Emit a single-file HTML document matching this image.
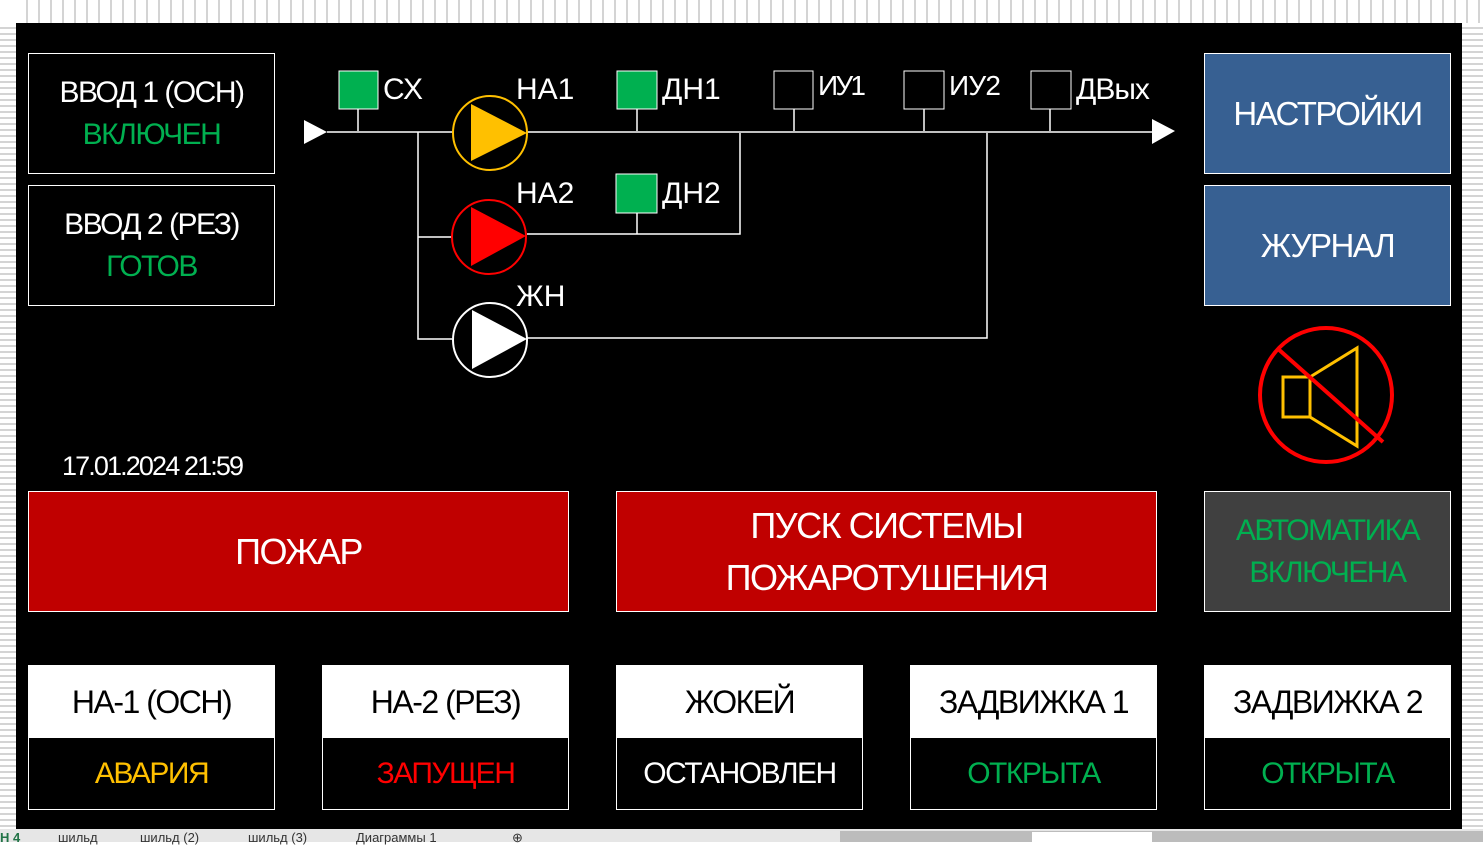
<!DOCTYPE html>
<html><head><meta charset="utf-8"><style>
body{margin:0;width:1483px;height:842px;overflow:hidden;background:#fff;font-family:"Liberation Sans",sans-serif;position:relative}
.top{position:absolute;left:16px;top:0;width:1467px;height:23px;background:repeating-linear-gradient(90deg,#fff 0 10px,#d4d4d4 10px 12px)}
.lft{position:absolute;left:0;top:23px;width:16px;height:807px;background:repeating-linear-gradient(180deg,#fff 0 4px,#d4d4d4 4px 6px)}
.rgt{position:absolute;left:1462px;top:23px;width:21px;height:807px;background:repeating-linear-gradient(180deg,#fff 0 4px,#d4d4d4 4px 6px)}
.main{position:absolute;left:16px;top:23px;width:1446px;height:806px;background:#000}
.b{position:absolute;box-sizing:border-box;border:1px solid #fff;display:flex;flex-direction:column;align-items:center;justify-content:center;color:#fff;text-align:center;letter-spacing:-1.5px}
.hd{position:absolute;left:0;top:0;right:0;height:72px;background:#fff;color:#000;display:flex;align-items:center;justify-content:center;font-size:32px}
.ft{position:absolute;left:0;bottom:0;right:0;height:71px;display:flex;align-items:center;justify-content:center;font-size:30px}
.tabs{position:absolute;left:0;top:829px;width:1483px;height:13px;background:#e6e6e6;font-size:13px;color:#333}
.tabs span{position:absolute;top:1px}
</style></head><body>
<div class="top"></div><div class="lft"></div><div class="rgt"></div>
<div class="main"></div>
<svg width="1483" height="842" style="position:absolute;left:0;top:0" font-family="Liberation Sans, sans-serif">
<g stroke="#fff" stroke-width="1.5" fill="none">
<line x1="327" y1="132" x2="1152" y2="132"/>
<polyline points="418,132 418,339 452,339"/>
<line x1="418" y1="237" x2="452" y2="237"/>
<polyline points="527,234 740,234 740,133"/>
<polyline points="527,338 987,338 987,133"/>
<line x1="358" y1="109" x2="358" y2="131"/>
<line x1="637" y1="109" x2="637" y2="131"/>
<line x1="637" y1="213" x2="637" y2="234"/>
<line x1="794" y1="109" x2="794" y2="131"/>
<line x1="924" y1="109" x2="924" y2="131"/>
<line x1="1050" y1="109" x2="1050" y2="131"/>
</g>
<polygon points="304,120 327,132 304,144" fill="#fff"/>
<polygon points="1152,119 1175,131 1152,144" fill="#fff"/>
<rect x="339" y="71" width="39" height="38" fill="#00b050" stroke="#fff"/>
<rect x="617" y="71" width="40" height="38" fill="#00b050" stroke="#fff"/>
<rect x="616" y="174" width="41" height="39" fill="#00b050" stroke="#fff"/>
<rect x="774" y="71" width="39" height="38" fill="#000" stroke="#fff"/>
<rect x="904" y="71" width="40" height="38" fill="#000" stroke="#fff"/>
<rect x="1031" y="71" width="40" height="38" fill="#000" stroke="#fff"/>
<circle cx="490" cy="133" r="37" fill="#000" stroke="#ffc000" stroke-width="2"/>
<polygon points="471,104 471,161 527,133" fill="#ffc000"/>
<circle cx="489" cy="237" r="37" fill="#000" stroke="#ff0000" stroke-width="2"/>
<polygon points="471,207 471,266 526,236" fill="#ff0000"/>
<circle cx="490" cy="340" r="37" fill="#000" stroke="#fff" stroke-width="2"/>
<polygon points="472,310 472,369 527,339" fill="#fff"/>
<g fill="#fff" font-size="30">
<text x="383" y="99">СХ</text>
<text x="516" y="99">НА1</text>
<text x="662" y="99">ДН1</text>
<text x="516" y="203">НА2</text>
<text x="662" y="203">ДН2</text>
<text x="516" y="306">ЖН</text>
<text x="818" y="95" font-size="28" textLength="48">ИУ1</text>
<text x="949" y="95" font-size="28" textLength="52">ИУ2</text>
<text x="1076" y="99" font-size="30" letter-spacing="-1">ДВых</text>
<text x="62" y="475" font-size="27" textLength="182">17.01.2024 21:59</text>
</g>
<rect x="1283" y="377" width="27" height="40" fill="none" stroke="#ffc000" stroke-width="3"/>
<polygon points="1310,377 1357,348 1357,446 1310,417" fill="none" stroke="#ffc000" stroke-width="3"/>
<ellipse cx="1326" cy="395" rx="66" ry="67" fill="none" stroke="#ff0000" stroke-width="4"/>
<line x1="1277" y1="348" x2="1383" y2="442" stroke="#ff0000" stroke-width="4"/>
</svg>
<div class="b" style="left:28px;top:53px;width:247px;height:121px;font-size:30px;line-height:42px"><div>ВВОД 1 (ОСН)</div><div style="color:#00b050">ВКЛЮЧЕН</div></div>
<div class="b" style="left:28px;top:185px;width:247px;height:121px;font-size:30px;line-height:42px"><div>ВВОД 2 (РЕЗ)</div><div style="color:#00b050">ГОТОВ</div></div>
<div class="b" style="left:1204px;top:53px;width:247px;height:121px;background:#376092;font-size:33px">НАСТРОЙКИ</div>
<div class="b" style="left:1204px;top:185px;width:247px;height:121px;background:#376092;font-size:33px">ЖУРНАЛ</div>
<div class="b" style="left:28px;top:491px;width:541px;height:121px;background:#c00000;font-size:36px">ПОЖАР</div>
<div class="b" style="left:616px;top:491px;width:541px;height:121px;background:#c00000;font-size:36px;line-height:52px"><div>ПУСК СИСТЕМЫ</div><div>ПОЖАРОТУШЕНИЯ</div></div>
<div class="b" style="left:1204px;top:491px;width:247px;height:121px;background:#404040;font-size:30px;line-height:42px;color:#00b050"><div>АВТОМАТИКА</div><div>ВКЛЮЧЕНА</div></div>
<div class="b" style="left:28px;top:665px;width:247px;height:145px"><div class="hd">НА-1 (ОСН)</div><div class="ft" style="color:#ffc000">АВАРИЯ</div></div>
<div class="b" style="left:322px;top:665px;width:247px;height:145px"><div class="hd">НА-2 (РЕЗ)</div><div class="ft" style="color:#ff0000">ЗАПУЩЕН</div></div>
<div class="b" style="left:616px;top:665px;width:247px;height:145px"><div class="hd">ЖОКЕЙ</div><div class="ft">ОСТАНОВЛЕН</div></div>
<div class="b" style="left:910px;top:665px;width:247px;height:145px"><div class="hd">ЗАДВИЖКА 1</div><div class="ft" style="color:#00b050">ОТКРЫТА</div></div>
<div class="b" style="left:1204px;top:665px;width:247px;height:145px"><div class="hd">ЗАДВИЖКА 2</div><div class="ft" style="color:#00b050">ОТКРЫТА</div></div>
<div class="tabs"><span style="left:0;color:#217346;font-weight:bold">Н 4</span><span style="left:58px">шильд</span><span style="left:140px">шильд (2)</span><span style="left:248px">шильд (3)</span><span style="left:356px">Диаграммы 1</span><span style="left:512px">⊕</span><div style="position:absolute;left:840px;top:2px;width:643px;height:11px;background:#bcbcbc"></div><div style="position:absolute;left:1032px;top:3px;width:120px;height:10px;background:#fff"></div></div>
</body></html>
